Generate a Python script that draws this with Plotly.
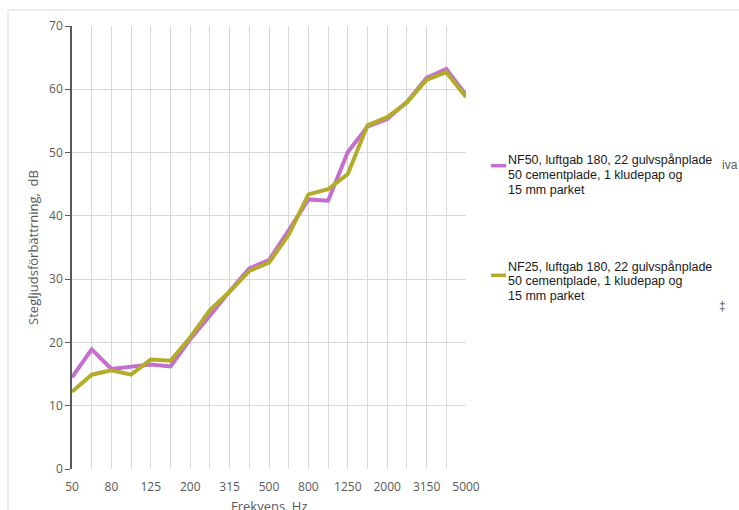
import plotly.graph_objects as go

freqs = ["50", "63", "80", "100", "125", "160", "200", "250", "315", "400", "500",
         "630", "800", "1000", "1250", "1600", "2000", "2500", "3150", "4000", "5000"]
tick_labels = [f if i % 2 == 0 else "" for i, f in enumerate(freqs)]

nf50 = [14.5, 18.9, 15.8, 16.1, 16.5, 16.2, 20.5, 24.2, 28.1, 31.7, 33.0,
        37.7, 42.6, 42.4, 50.1, 54.1, 55.3, 58.0, 61.8, 63.2, 59.1]
nf25 = [12.2, 14.9, 15.6, 14.9, 17.3, 17.1, 20.8, 25.1, 28.0, 31.3, 32.6,
        37.0, 43.4, 44.2, 46.6, 54.3, 55.6, 57.9, 61.5, 62.7, 58.8]

legend50 = ["NF50, luftgab 180, 22 gulvspånplade", "50 cementplade, 1 kludepap og", "15 mm parket"]
legend25 = ["NF25, luftgab 180, 22 gulvspånplade", "50 cementplade, 1 kludepap og", "15 mm parket"]

PURPLE = "#C46FCF"
OLIVE = "#B3AC2B"

W, H = 739, 510
L, T, R, B = 72, 26, 273, 41
PW, PH = W - L - R, H - T - B


def px(x):
    return (x - L) / PW


def py(y):
    return (H - B - y) / PH


fig = go.Figure()
fig.add_trace(go.Scatter(x=freqs, y=nf50, mode="lines", name=" ".join(legend50),
                         line=dict(color=PURPLE, width=4)))
fig.add_trace(go.Scatter(x=freqs, y=nf25, mode="lines", name=" ".join(legend25),
                         line=dict(color=OLIVE, width=4)))

axis_font = dict(family="Open Sans, Liberation Sans, sans-serif", size=12, color="#595959")
title_font = dict(family="Open Sans, Liberation Sans, sans-serif", size=13, color="#595959")
leg_font = dict(family="Liberation Sans, Arial, sans-serif", size=12.5, color="#1a1a1a")

annotations = []
for lines, y0 in ((legend50, 160.0), (legend25, 266.5)):
    for i, t in enumerate(lines):
        annotations.append(dict(text=t, xref="paper", yref="paper", x=px(506), y=py(y0 + 14.8 * i),
                                xanchor="left", yanchor="middle", showarrow=False, font=leg_font))
annotations.append(dict(text="iva", xref="paper", yref="paper", x=px(720), y=py(165),
                        xanchor="left", yanchor="middle", showarrow=False,
                        font=dict(family="Liberation Sans, Arial, sans-serif", size=12, color="#595959")))
annotations.append(dict(text="‡", xref="paper", yref="paper", x=px(717), y=py(306),
                        xanchor="left", yanchor="middle", showarrow=False,
                        font=dict(family="Liberation Sans, Arial, sans-serif", size=12, color="#595959")))
# x-axis title (partly cut by the bottom edge, as in the original)
annotations.append(dict(text="Frekvens, Hz", xref="paper", yref="paper", x=0.5, y=py(506),
                        xanchor="center", yanchor="middle", showarrow=False, font=title_font))

shapes = [
    dict(type="rect", xref="paper", yref="paper",
         x0=px(8), x1=px(780), y0=py(560), y1=py(10),
         line=dict(color="#d9d9d9", width=1), layer="below"),
    dict(type="line", xref="paper", yref="paper", x0=px(491), x1=px(506), y0=py(165.7), y1=py(165.7),
         line=dict(color=PURPLE, width=3.5)),
    dict(type="line", xref="paper", yref="paper", x0=px(491), x1=px(506), y0=py(275.3), y1=py(275.3),
         line=dict(color=OLIVE, width=3.5)),
]

fig.update_layout(
    width=W, height=H,
    margin=dict(l=L, r=R, t=T, b=B),
    paper_bgcolor="white", plot_bgcolor="white",
    showlegend=False,
    xaxis=dict(type="category", categoryorder="array", categoryarray=freqs,
               range=[0, 20], tickmode="array", tickvals=freqs, ticktext=tick_labels,
               showgrid=True, gridcolor="#d9d9d9", gridwidth=1,
               showline=False, zeroline=False, ticks="", tickfont=axis_font,
               ticklabelstandoff=9, automargin=False),
    yaxis=dict(range=[0, 70], dtick=10, showgrid=True, gridcolor="#d9d9d9", gridwidth=1,
               showline=True, linecolor="#595959", linewidth=1.5,
               ticks="outside", ticklen=5, tickcolor="#595959", zeroline=False,
               tickfont=axis_font, automargin=False,
               title=dict(text="Stegljudsförbättrning,  dB", font=title_font, standoff=8)),
    shapes=shapes,
    annotations=annotations,
)

fig.write_html("out.html", config={"displayModeBar": False},
               post_script="document.body.style.margin='0';document.body.style.overflow='hidden';")
